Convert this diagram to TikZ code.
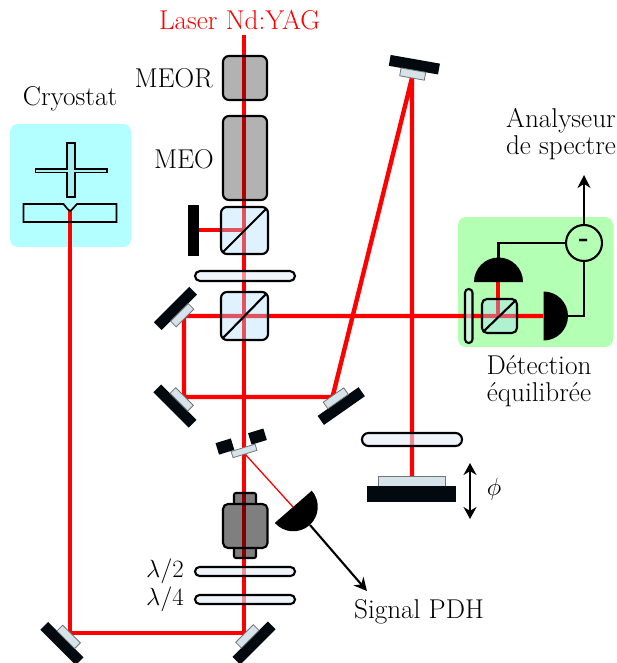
\documentclass[tikz,border=0pt]{standalone}
\usetikzlibrary{arrows.meta,calc}
\definecolor{beamred}{RGB}{255,0,0}
\definecolor{cubeblue}{rgb}{.68,.87,1}
\definecolor{platec}{rgb}{.90,.93,.975}
\definecolor{mirblack}{RGB}{2,10,16}
\definecolor{mirgray}{RGB}{213,227,234}
\definecolor{cryobg}{RGB}{179,255,255}
\definecolor{detbg}{RGB}{179,255,179}
\tikzset{
  x=1pt,y=1pt,
  beam/.style={draw=beamred,line width=4.4pt},
  thinbeam/.style={draw=beamred,line width=1.3pt},
  outline/.style={draw=black,line width=2.1pt},
  wire/.style={draw=black,line width=2.1pt},
  eom/.style={outline,fill=black,fill opacity=.3,rounded corners=6pt},
  cube/.style={outline,fill=cubeblue,fill opacity=.38,rounded corners=6pt},
  plate/.style={outline,fill=platec,fill opacity=.6},
  lab/.style={inner sep=0pt,font=\fontsize{27.2}{27}\selectfont,align=center},
  arr/.style={wire,-{Stealth[length=13pt,width=13pt]}},
}
\newcommand{\mirrorat}[2]{%
  \begin{scope}[shift={(#1)},rotate=#2]
    \fill[mirblack] (-25,8) rectangle (25,19);
    \draw[draw=black!55,line width=.8pt,fill=mirgray] (-12.5,0) rectangle (12.5,8);
  \end{scope}}
\newcommand{\domeat}[2]{%
  \begin{scope}[shift={(#1)},rotate=#2]
    \fill[black] (-24.5,0) arc[start angle=180,end angle=0,radius=24.5] -- cycle;
  \end{scope}}
\newcommand{\plateat}[5]{% x1 x2 y1 y2 radius
  \draw[plate,rounded corners=#5pt] (#1,-#3) rectangle (#2,-#4);}
\begin{document}
\begin{tikzpicture}
\useasboundingbox (0,0) rectangle (617,-663);
\clip (0,0) rectangle (617,-663);
% backgrounds
\fill[cryobg,rounded corners=8pt] (10,-124) rectangle (131,-247);
\fill[detbg,rounded corners=8pt] (458,-217) rectangle (613,-347);
% coordinates
\coordinate (ltop) at (244,-35);
\coordinate (lbot) at (244,-633);
\coordinate (blc) at (70,-633);
\coordinate (cry) at (70,-210);
\coordinate (dump) at (199,-230);
\coordinate (dumpc) at (244,-230);
\coordinate (h1) at (184,-316);
\coordinate (h2) at (543,-316);
\coordinate (h3) at (184,-397);
\coordinate (h4) at (332.5,-397);
\coordinate (tm) at (412,-78);
\coordinate (pist) at (412,-476);
\coordinate (dup) at (498,-282);
\coordinate (dcu) at (498,-316);
\coordinate (pdhm) at (245,-454);
\coordinate (pdhd) at (293,-507);
% beams
\draw[beam] (ltop) -- (lbot) -- (blc) -- (cry);
\draw[beam] (dump) -- (dumpc);
\draw[beam] (h2) -- (h1) -- (h3) -- (h4) -- (tm) -- (pist);
\draw[beam] (dup) -- (dcu);
\draw[thinbeam] (pdhm) -- (pdhd);
% EOMs
\draw[eom] (223,-56) rectangle (267,-100);
\draw[eom] (223,-116) rectangle (267,-200);
% cubes
\draw[cube] (221,-207) rectangle (268,-254);
\draw[outline] (223,-252) -- (266,-209);
\draw[cube] (221,-292) rectangle (268,-340);
\draw[outline] (223,-338) -- (266,-294);
\draw[cube,rounded corners=5pt] (482,-299) rectangle (517,-333);
\draw[outline] (484,-331) -- (515,-301);
% dump
\fill[black] (188,-205) rectangle (199,-256);
% plates
\plateat{195}{295}{271}{281}{5}
\plateat{195}{295}{567}{576}{4.5}
\plateat{195}{295}{595}{604}{4.5}
\plateat{362}{462}{433}{446}{6.5}
\plateat{465}{472.5}{289}{343}{3.7}
% mirrors
\mirrorat{185,-318}{45}
\mirrorat{184.5,-396.5}{135}
\mirrorat{333.5,-395}{-145}
\mirrorat{412,-78}{-10}
\mirrorat{71.5,-634}{135}
\mirrorat{244.5,-633.5}{-135}
% partial mirror
\begin{scope}[shift={(pdhm)},rotate=17]
  \fill[mirblack] (-25,7) rectangle (-9,19);
  \fill[mirblack] (9,7) rectangle (25,19);
  \draw[draw=black!55,line width=.8pt,fill=mirgray] (-12.5,0) rectangle (12.5,6.5);
\end{scope}
% piston mirror
\draw[draw=black!55,line width=.8pt,fill=mirgray] (378,-476) rectangle (445,-486);
\fill[mirblack] (367,-486) rectangle (456,-502);
% objective
\draw[outline,fill=black,fill opacity=.5,rounded corners=2pt] (234,-504) -- (234,-493) -- (256,-493) -- (256,-504);
\draw[outline,fill=black,fill opacity=.5,rounded corners=2pt] (234,-548) -- (234,-558) -- (256,-558) -- (256,-548);
\draw[eom,fill opacity=.5,rounded corners=5pt] (223,-504) rectangle (267.5,-548);
% cryostat parts
\draw[draw=black,line width=1.7pt,fill=cryobg!88!black,fill opacity=.5]
  (66.7,-143) -- (75,-143) -- (75,-169) -- (107,-169) -- (107,-172.5) -- (75,-172.5) -- (75,-197)
  -- (66.7,-197) -- (66.7,-172.5) -- (35.5,-172.5) -- (35.5,-169) -- (66.7,-169) -- cycle;
\draw[draw=black,line width=1.7pt] (23.5,-204) -- (63.5,-204) -- (68,-209.5) -- (70,-211) -- (72,-209.5) -- (77,-204)
  -- (116.5,-204) -- (116.5,-222) -- (23.5,-222) -- cycle;
% PDH detector
\domeat{293.3,-506.8}{-139}
\coordinate (pdhback) at (310,-525);
\coordinate (pdhout) at (367,-591);
\draw[arr] (pdhback) -- (pdhout);
% balanced detection
\domeat{498.5,-282}{0}
\domeat{543.5,-316}{-90}
\node[circle,draw=black,line width=2.1pt,minimum size=36pt,inner sep=0pt] (sub) at (584,-243) {};
\node[inner sep=0pt,font=\fontsize{27}{29}\bfseries\selectfont] (minus) at (584,-242.5) {-};
\coordinate (subout) at (584,-175);
\coordinate (dome1top) at (498.5,-258);
\coordinate (dome2back) at (568,-316);
\draw[arr] (sub.north) -- (subout);
\draw[wire] (dome1top) |- (sub.west);
\draw[wire] (dome2back) -| (sub.south);
% phi arrow
\coordinate (pa) at (470,-463);
\coordinate (pb) at (470,-519);
\draw[wire,{Stealth[length=12pt,width=13pt]}-{Stealth[length=12pt,width=13pt]}] (pa) -- (pb);
% labels
\node[lab,text=red] (laser) at (239.5,-20) {Laser Nd:YAG};
\node[lab,anchor=east] (meor) at (213,-78) {MEOR};
\node[lab,anchor=east] (meo) at (214,-159) {MEO};
\node[lab] (cryo) at (70,-99) {Cryostat};
\node[lab] (ana) at (561,-134) {Analyseur\\de spectre};
\node[lab] (det) at (539,-381) {Détection\\équilibrée};
\node[lab] (phi) at (494,-489) {$\phi$};
\node[lab] (l2) at (165,-571) {$\lambda/2$};
\node[lab] (l4) at (165,-599) {$\lambda/4$};
\node[lab] (pdh) at (419,-612) {Signal PDH};
\end{tikzpicture}
\end{document}
